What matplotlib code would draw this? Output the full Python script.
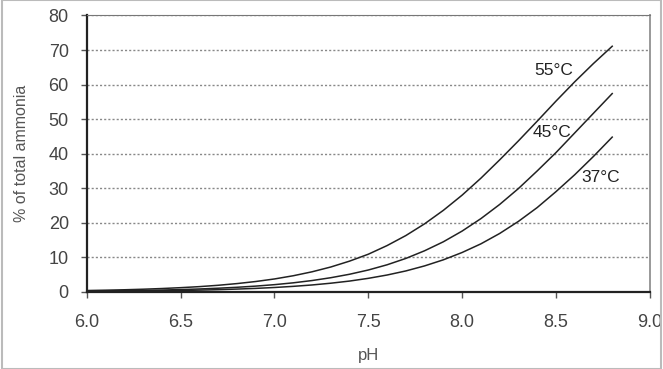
import matplotlib.pyplot as plt
from matplotlib.patches import Rectangle

plt.rcParams['font.family'] = ['Liberation Sans', 'DejaVu Sans']

# pH values and % free ammonia
ph = [6.0, 6.1, 6.2, 6.3, 6.4, 6.5, 6.6, 6.7, 6.8, 6.9,
      7.0, 7.1, 7.2, 7.3, 7.4, 7.5, 7.6, 7.7, 7.8, 7.9,
      8.0, 8.1, 8.2, 8.3, 8.4, 8.5, 8.6, 8.7, 8.8]
t55 = [0.39, 0.49, 0.61, 0.77, 0.97, 1.22, 1.52, 1.91, 2.40, 3.00,
       3.74, 4.67, 5.81, 7.2, 8.9, 10.9, 13.4, 16.3, 19.7, 23.6,
       28.0, 32.9, 38.2, 43.7, 49.4, 55.2, 60.8, 66.1, 71.1]
t45 = [0.21, 0.27, 0.34, 0.43, 0.53, 0.67, 0.84, 1.06, 1.33, 1.67,
       2.09, 2.62, 3.28, 4.10, 5.10, 6.33, 7.84, 9.68, 11.9, 14.5,
       17.6, 21.2, 25.3, 29.9, 35.0, 40.3, 46.0, 51.7, 57.4]
t37 = [0.13, 0.16, 0.20, 0.26, 0.32, 0.41, 0.51, 0.64, 0.81, 1.01,
       1.27, 1.60, 2.00, 2.51, 3.13, 3.92, 4.88, 6.06, 7.52, 9.28,
       11.4, 13.9, 16.9, 20.4, 24.4, 29.0, 33.9, 39.2, 44.8]

labels = ['55°C', '45°C', '37°C']
label_x = [8.49, 8.48, 8.74]
label_y = [64, 46, 33]

fig = plt.figure(figsize=(6.63, 3.69), dpi=100)
ax = fig.add_axes([0.131, 0.209, 0.849, 0.749])

for ys in (t55, t45, t37):
    ax.plot(ph, ys, color='#222222', lw=1.1)

for txt, x, y in zip(labels, label_x, label_y):
    ax.text(x, y, txt, ha='center', va='center', fontsize=12.5, color='#222222')

ax.set_xlim(6.0, 9.0)
ax.set_ylim(0, 80)
ax.set_xticks([6.0, 6.5, 7.0, 7.5, 8.0, 8.5, 9.0])
ax.set_xticklabels(['6.0', '6.5', '7.0', '7.5', '8.0', '8.5', '9.0'])
ax.set_yticks(range(0, 81, 10))
ax.tick_params(labelsize=13, colors='#555555', length=4, width=1, labelcolor='#444444')
ax.tick_params(axis='x', pad=12)
ax.tick_params(axis='y', pad=9)
ax.grid(axis='y', linestyle=(0, (1.5, 1.5)), color='#888888', lw=1)
ax.set_axisbelow(True)

ax.spines['left'].set_color('#222222')
ax.spines['bottom'].set_color('#222222')
ax.spines['left'].set_linewidth(1.6)
ax.spines['bottom'].set_linewidth(1.6)
ax.spines['top'].set_color('#777777')
ax.spines['right'].set_color('#999999')
ax.spines['right'].set_linewidth(1.4)

ax.set_xlabel('pH', fontsize=12, color='#555555', labelpad=12)
ax.set_ylabel('% of total ammonia', fontsize=11.5, color='#555555', labelpad=14)

# light frame round the image
fig.patches.append(Rectangle((0.003, 0.0), 0.994, 1.0, transform=fig.transFigure,
                             fill=False, edgecolor='#bbbbbb', lw=1.5))

fig.savefig('out.png', dpi=100)
